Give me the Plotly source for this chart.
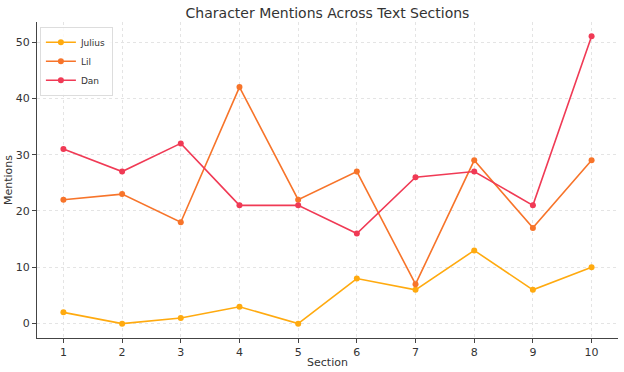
import plotly.graph_objects as go

sections = [1, 2, 3, 4, 5, 6, 7, 8, 9, 10]
julius = [2, 0, 1, 3, 0, 8, 6, 13, 6, 10]
lil = [22, 23, 18, 42, 22, 27, 7, 29, 17, 29]
dan = [31, 27, 32, 21, 21, 16, 26, 27, 21, 51]

series = [("Julius", julius, "#FFAA0F"), ("Lil", lil, "#F7742A"), ("Dan", dan, "#F03A55")]

fig = go.Figure()
for name, vals, col in series:
    fig.add_trace(go.Scatter(x=sections, y=vals, name=name, mode="lines+markers",
                             line=dict(color=col, width=1.6),
                             marker=dict(color=col, size=6)))

font = "DejaVu Sans, sans-serif"
fig.update_layout(
    width=624, height=372,
    margin=dict(l=37, r=6, t=22, b=34),
    paper_bgcolor="white", plot_bgcolor="white",
    font=dict(family=font, color="#333333", size=11),
    title=dict(text="Character Mentions Across Text Sections", x=0.5, xref="paper", xanchor="center",
               y=0.965, yanchor="middle", font=dict(size=14, color="#333333")),
    legend=dict(x=0.005, y=0.985, xanchor="left", yanchor="top",
                bgcolor="rgba(255,255,255,0.8)", bordercolor="#dddddd", borderwidth=1,
                font=dict(size=9), tracegroupgap=0, itemwidth=30),
    showlegend=True,
)
fig.update_xaxes(range=[0.55, 10.45], tickvals=sections, ticktext=[str(s) for s in sections],
                 showgrid=True, gridcolor="#e4e4e4", griddash="dot", gridwidth=1,
                 showline=True, linecolor="#444444", linewidth=1.2, automargin=False,
                 ticks="outside", ticklen=4, tickcolor="#444444",
                 zeroline=False, title=dict(text="Section", standoff=0, font=dict(size=11)),
                 tickfont=dict(size=11))
fig.update_yaxes(range=[-2.55, 53.55], tickvals=[0, 10, 20, 30, 40, 50],
                 showgrid=True, gridcolor="#e4e4e4", griddash="dot", gridwidth=1,
                 showline=True, linecolor="#444444", linewidth=1.2, automargin=False,
                 ticks="outside", ticklen=4, tickcolor="#444444",
                 zeroline=False, title=dict(text="Mentions", standoff=0, font=dict(size=11)),
                 tickfont=dict(size=11))

fig.write_html("out.html", config={"displayModeBar": False},
               post_script="document.body.style.margin='0';")
